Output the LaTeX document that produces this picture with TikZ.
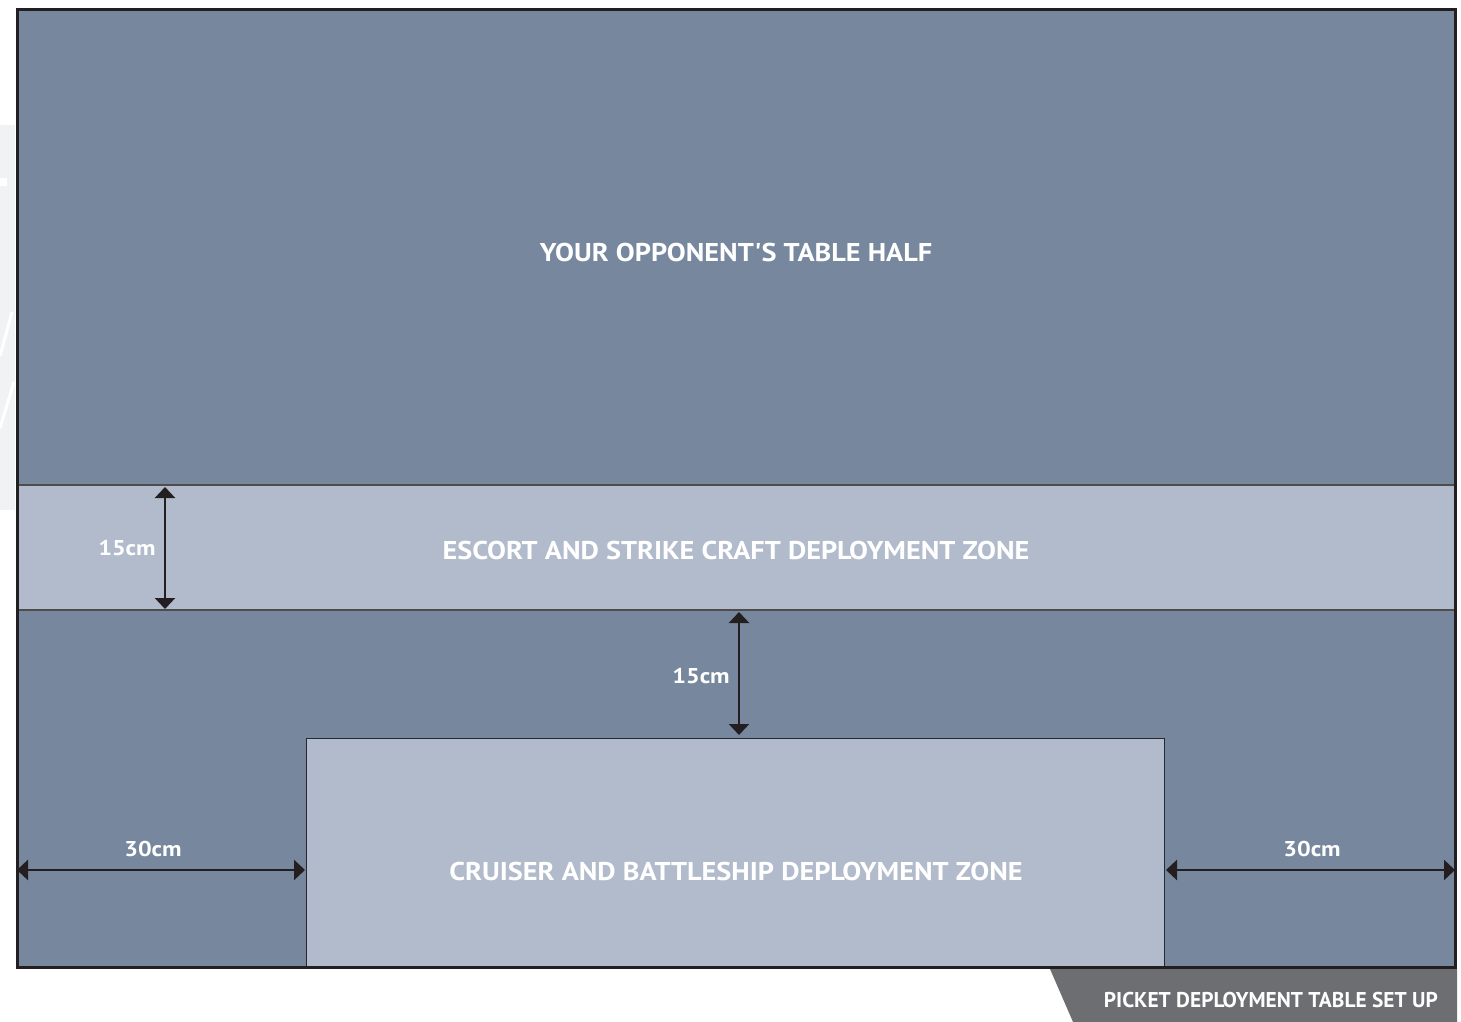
\documentclass[tikz,border=0pt]{standalone}
\usepackage{fontspec}
\setmainfont{PT Sans}
\newfontfamily\lblfont{PT Sans}[FakeStretch=1.10]
\newfontfamily\dimfont{PT Sans}[FakeStretch=1.13]
\newfontfamily\banfont{PT Sans}
\usetikzlibrary{arrows.meta}
\definecolor{zonedark}{HTML}{77889E}
\definecolor{zonelight}{HTML}{B2BBCC}
\definecolor{frame}{HTML}{231F20}
\definecolor{banner}{HTML}{6D6E71}
\definecolor{wmark}{HTML}{F1F2F4}
\tikzset{
  lbl/.style={text=white,font=\lblfont\bfseries\fontsize{25.7}{28}\selectfont,inner sep=0pt},
  dim/.style={text=white,font=\dimfont\bfseries\fontsize{21.4}{23}\selectfont,inner sep=0pt},
  dimarrow/.style={draw=frame,line width=2.6pt,{Triangle[width=20pt,length=11pt]}-{Triangle[width=20pt,length=11pt]}},
}
\begin{document}
\begin{tikzpicture}[x=1pt,y=-1pt]
\useasboundingbox (0,0) rectangle (1461,1022);
% faint watermark at left
\fill[wmark] (0,125) rectangle (15,510);
\draw[white,line width=3pt] (12,312) -- (0,356);
\draw[white,line width=3pt] (14,382) -- (0,428);
\fill[white] (0,178) rectangle (7,186);
% table
\fill[zonedark] (17,9) rectangle (1455,967);
\fill[zonelight] (17,485) rectangle (1455,610);
\draw[frame!80,line width=1.3pt] (17,485) -- (1455,485);
\draw[frame!80,line width=1.3pt] (17,610) -- (1455,610);
\fill[zonelight] (306.5,738) rectangle (1164.5,967);
\draw[black!70!zonedark,line width=1pt] (306.5,967) -- (306.5,738) -- (1164.5,738) -- (1164.5,967);
\draw[frame,line width=3pt] (17.5,9.5) rectangle (1455.5,967.5);
% banner
\fill[banner] (1050,969) -- (1457,969) -- (1457,1022) -- (1073,1022) -- cycle;
\node[text=white,font=\banfont\bfseries\fontsize{21.4}{23}\selectfont,inner sep=0pt,anchor=base east] (title) at (1438,1007) {PICKET DEPLOYMENT TABLE SET UP};
% labels
\node[lbl,anchor=base] (opp) at (736,261) {YOUR OPPONENT'S TABLE HALF};
\node[lbl,anchor=base] (escort) at (736,559) {ESCORT AND STRIKE CRAFT DEPLOYMENT ZONE};
\node[lbl,anchor=base] (cruiser) at (736,880) {CRUISER AND BATTLESHIP DEPLOYMENT ZONE};
\node[dim,anchor=base] (d1) at (127,555) {15cm};
\node[dim,anchor=base] (d2) at (701,683) {15cm};
\node[dim,anchor=base] (d3) at (153,856) {30cm};
\node[dim,anchor=base] (d4) at (1312,856) {30cm};
% arrows
\coordinate (a1t) at (165,487);
\coordinate (a1b) at (165,609);
\coordinate (a2t) at (739,612);
\coordinate (a2b) at (739,735);
\coordinate (a3l) at (17,870);
\coordinate (a3r) at (305,870);
\coordinate (a4l) at (1166,870);
\coordinate (a4r) at (1455,870);
\draw[dimarrow] (a1t) -- (a1b);
\draw[dimarrow] (a2t) -- (a2b);
\draw[dimarrow] (a3l) -- (a3r);
\draw[dimarrow] (a4l) -- (a4r);
\end{tikzpicture}
\end{document}
